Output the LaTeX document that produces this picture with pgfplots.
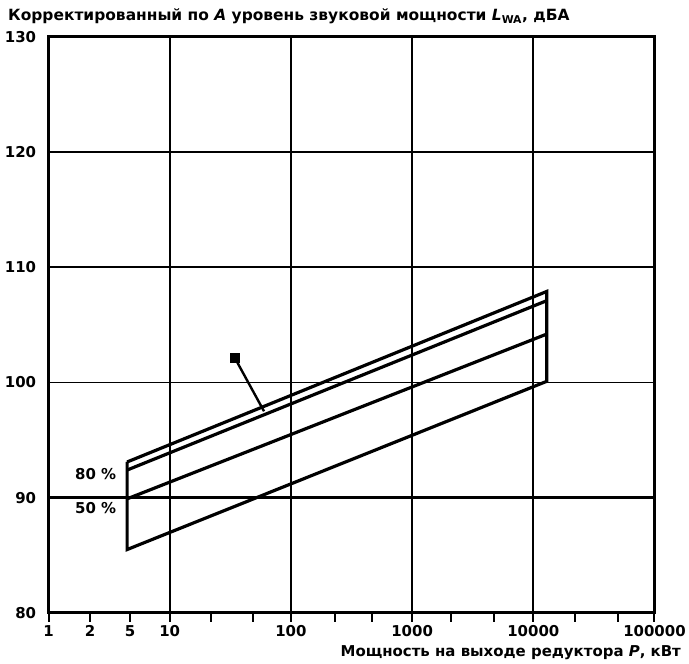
\documentclass[border=0pt]{standalone}
\usepackage{fontspec}
\setmainfont{DejaVu Sans}
\usepackage{pgfplots}
\pgfplotsset{compat=1.18}

\begin{document}
\begin{tikzpicture}
\begin{axis}[
  scale only axis,
  width=608pt, height=578pt,
  xmode=log, xmin=1, xmax=100000,
  ymin=80, ymax=130,
  axis line style={line width=3pt},
  font=\bfseries\fontsize{15}{17}\selectfont,
  /pgf/number format/assume math mode=true,
  xtick={1,2.2,4.7,10,100,1000,10000,100000},
  xticklabels={1,2,5,10,100,1000,10000,100000},
  minor xtick={22,49,230,470,2100,4700,22000,50000},
  xtick pos=bottom,
  tick align=outside,
  major tick length=9pt, minor tick length=9pt,
  x tick style={line width=2pt, black},
  ytick={80,90,100,110,120,130},
  yticklabels={80,90,100,110,120,130},
  ytick pos=left,
  y tick style={draw=none},
  ymajorgrids,
  major grid style={line width=1.8pt, black},
  extra x ticks={10,100,1000,10000},
  extra x tick labels={},
  extra x tick style={grid=major, major tick length=9pt},
  extra y ticks={90},
  extra y tick labels={},
  extra y tick style={major grid style={line width=2.8pt, black}},
  clip=false,
]
% outline of the band
\addplot [black, line width=3.2pt, line join=miter] coordinates
  {(4.45,93.1) (12900,107.9) (12900,100.1) (4.45,85.5) (4.45,93.1)};
% second upper line
\addplot [black, line width=3.2pt] coordinates {(4.45,92.4) (12900,107.1)};
% middle line
\addplot [black, line width=3.2pt] coordinates {(4.45,89.9) (12900,104.2)};
% leader with square
\addplot [black, line width=2.4pt, mark=square*, mark size=4pt, mark indices={1}]
  coordinates {(34.6,102.1) (60,97.5)};

\node[anchor=south east, inner sep=1pt] at (axis cs:3.7,91.5) {80 \%};
\node[anchor=north east, inner sep=1pt] at (axis cs:3.7,89.7) {50 \%};

\node[anchor=base west, font=\bfseries\fontsize{15.5}{17}\selectfont]
  at ([xshift=-44pt,yshift=16pt]rel axis cs:0,1)
  {Корректированный по \textit{A} уровень звуковой мощности \textit{L}\textsubscript{WA}, дБА};
\node[anchor=base east, font=\bfseries\fontsize{15}{17}\selectfont]
  at ([xshift=30pt,yshift=-44pt]rel axis cs:1,0)
  {Мощность на выходе редуктора \textit{P}, кВт};
\end{axis}
\path ([xshift=-48.7pt,yshift=-48pt]current axis.south west)
  rectangle ([xshift=32.3pt,yshift=37pt]current axis.north east);
\end{tikzpicture}
\end{document}
